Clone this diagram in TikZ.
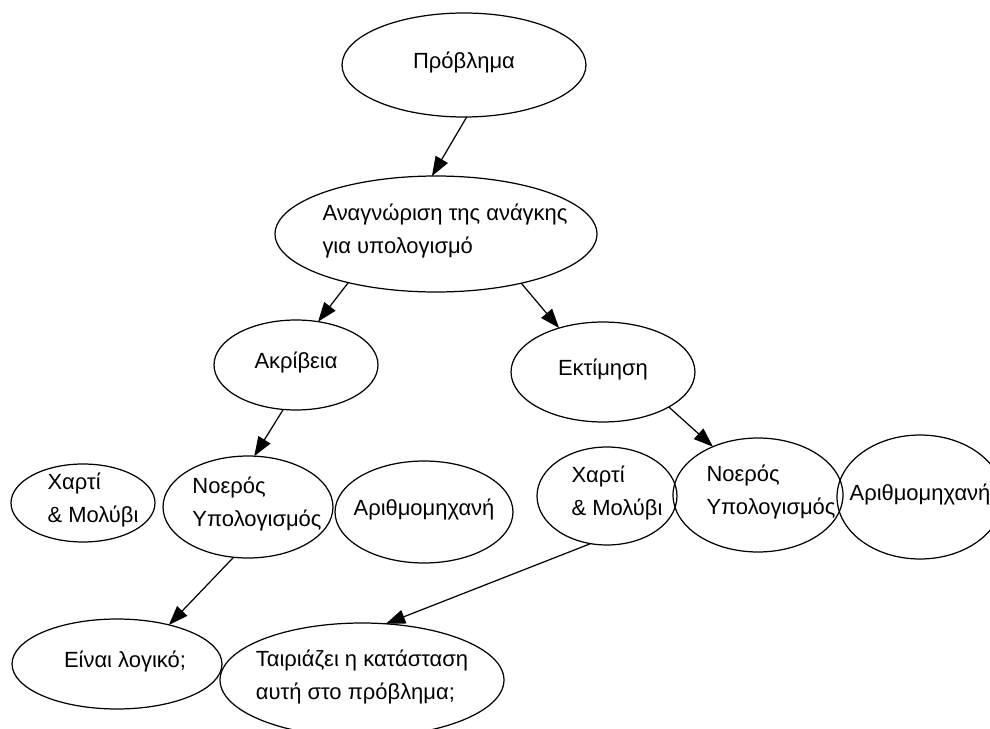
\documentclass[tikz,border=0pt]{standalone}
\usepackage{fontspec}
\setmainfont{Liberation Sans}
\usetikzlibrary{shapes.geometric,arrows.meta}

\newlength{\px}
\setlength{\px}{0.02cm}
% label that does not widen its bubble (#1 = shift, twice the offset in px)
\newcommand{\bubbletext}[2][0]{\makebox[0pt]{\hspace{#1\px}\raisebox{-2pt}{\smash{\begin{tabular}{@{}l@{}}#2\end{tabular}}}}}

\tikzset{
  bubble/.style={draw, ellipse, line width=0.7pt, inner sep=0pt, outer sep=0pt,
    font=\fontsize{12.5}{18.7}\selectfont},
  flow/.style={-{Triangle[length=11pt,width=8pt]}, line width=0.7pt}
}

\begin{document}
\begin{tikzpicture}[x=0.02cm, y=-0.02cm]
  \clip (0,0) rectangle (990,729);
  % top of the tree
  \node[bubble, minimum width=4.88cm, minimum height=2.08cm] (problem) at (464,65) {\bubbletext{Πρόβλημα}};
  \node[bubble, minimum width=6.44cm, minimum height=2.32cm] (need) at (436,234)
    {\bubbletext[18]{Αναγνώριση της ανάγκης\\για υπολογισμό}};
  % two ways
  \node[bubble, minimum width=3.28cm, minimum height=1.8cm] (accuracy) at (296,365) {\bubbletext{Ακρίβεια}};
  \node[bubble, minimum width=3.68cm, minimum height=2.0cm] (estimate) at (603,372) {\bubbletext{Εκτίμηση}};
  % tools, left row
  \node[bubble, minimum width=2.88cm, minimum height=1.56cm] (paperL) at (83,503) {\bubbletext[20]{Χαρτί\\\& Μολύβι}};
  \node[bubble, minimum width=3.4cm, minimum height=2.04cm] (mentalL) at (248,507) {\bubbletext[18]{Νοερός\\Υπολογισμός}};
  \node[bubble, minimum width=3.56cm, minimum height=2.04cm] (calcL) at (424,512) {\bubbletext{Αριθμομηχανή}};
  % tools, right row
  \node[bubble, minimum width=2.8cm, minimum height=1.96cm] (paperR) at (607,496) {\bubbletext[20]{Χαρτί\\\& Μολύβι}};
  \node[bubble, minimum width=3.4cm, minimum height=2.28cm] (mentalR) at (758,495) {\bubbletext[26]{Νοερός\\Υπολογισμός}};
  \node[bubble, minimum width=3.32cm, minimum height=2.48cm] (calcR) at (920,497) {\bubbletext{Αριθμομηχανή}};
  % checks
  \node[bubble, minimum width=4.2cm, minimum height=1.8cm] (logic) at (117,664) {\bubbletext[16]{Είναι λογικό;}};
  \node[bubble, minimum width=5.68cm, minimum height=2.28cm] (fits) at (362,680)
    {\bubbletext{Ταιριάζει η κατάσταση\\αυτή στο πρόβλημα;}};

  % arrows
  \draw[flow] (problem.-87) -- (need.94);
  \draw[flow] (need.-151) -- (accuracy.63);
  \draw[flow] (need.-30) -- (estimate.135);
  \draw[flow] (accuracy.-106) -- (mentalL.83);
  \draw[flow] (estimate.-28) -- (mentalR.133);
  \draw[flow] (mentalL.-106) -- (logic.37);
  \draw[flow] (paperR.-109) -- (fits.67);
\end{tikzpicture}
\end{document}
